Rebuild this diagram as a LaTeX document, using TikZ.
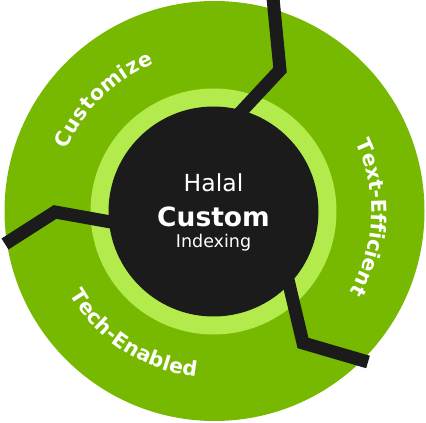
\documentclass[tikz,border=0pt]{standalone}
\usepackage{fontspec}
\setmainfont{DejaVu Sans}
\usetikzlibrary{decorations.text}
\definecolor{leaf}{HTML}{76B900}
\definecolor{lime}{HTML}{B3EB4C}
\definecolor{ink}{HTML}{1B1B1B}
\tikzset{
  spoke/.style={draw=ink, line width=13pt, line cap=butt, line join=miter},
  arclabel/.style={decorate, decoration={text along path, text color=white, text align=fit to path, text={#1}}},
  centertext/.style={text=white, inner sep=0pt, anchor=base}
}
\newcommand{\arcfnt}{\bfseries\fontsize{20.5}{20.5}\selectfont}
\begin{document}
\begin{tikzpicture}[x=1pt,y=1pt]
\useasboundingbox (0,0) rectangle (426,423);
\clip (0,0) rectangle (426,423);
\coordinate (c) at (213.5,211.5);
\coordinate (big) at (214.5,212);
% discs
\fill[leaf] (big) circle[radius=210];
\fill[lime] (c) circle[radius=123];
% spokes
\coordinate (s1) at (225,294);
\coordinate (b1) at (280,353);
\coordinate (e1) at (272.5,430);
\coordinate (s2) at (150,194);
\coordinate (b2) at (55,211);
\coordinate (e2) at (5,179);
\coordinate (s3) at (280,177);
\coordinate (b3) at (303,80);
\coordinate (e3) at (368,61);
\draw[spoke] (s1) -- (b1) -- (e1);
\draw[spoke] (s2) -- (b2) -- (e2);
\draw[spoke] (s3) -- (b3) -- (e3);
% hub
\node[circle, fill=ink, minimum size=210pt, inner sep=0pt] (hub) at (c) {};
\node[centertext, font=\fontsize{23.5}{23.5}\selectfont] (halal) at (213.5,231) {Halal};
\node[centertext, font=\bfseries\fontsize{26.5}{26.5}\selectfont] (custom) at (213.5,196) {Custom};
\node[centertext, font=\fontsize{17.5}{17.5}\selectfont] (indexing) at (213.5,175) {Indexing};
% curved labels
\path[arclabel={|\arcfnt|Customize}] (c) ++(157:159) arc[start angle=157, end angle=112, radius=159];
\path[arclabel={|\arcfnt|Text-Efficient}] (c) ++(26:158) arc[start angle=26, end angle=-29.5, radius=158];
\path[arclabel={|\arcfnt|Tech-Enabled}] (c) ++(210:166) arc[start angle=210, end angle=264, radius=166];
\end{tikzpicture}
\end{document}
